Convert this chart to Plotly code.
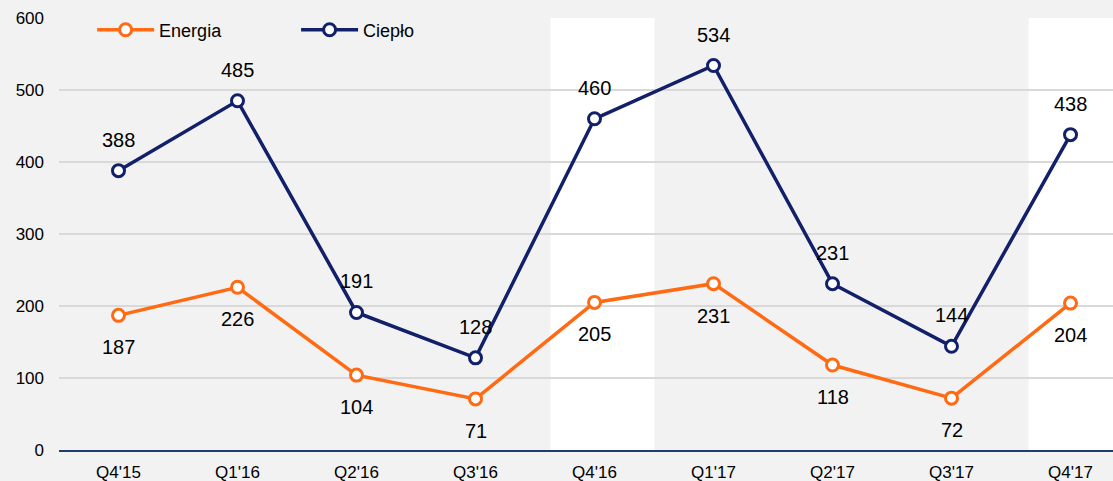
import plotly.graph_objects as go

categories = ["Q4'15", "Q1'16", "Q2'16", "Q3'16", "Q4'16", "Q1'17", "Q2'17", "Q3'17", "Q4'17"]
energia = [187, 226, 104, 71, 205, 231, 118, 72, 204]
cieplo = [388, 485, 191, 128, 460, 534, 231, 144, 438]
y_ticks = [0, 100, 200, 300, 400, 500, 600]

ORANGE = "#FF6A13"
NAVY = "#12206A"
BG = "#F2F2F2"
FONT = "Liberation Sans, Arial, sans-serif"

xs = list(range(len(categories)))
X_MAX = 8.357

fig = go.Figure()
fig.add_trace(go.Scatter(
    x=xs, y=energia, name="Energia", mode="lines+markers",
    line=dict(color=ORANGE, width=3.5),
    marker=dict(symbol="circle", size=12, color="white", line=dict(color=ORANGE, width=3)),
    cliponaxis=False,
))
fig.add_trace(go.Scatter(
    x=xs, y=cieplo, name="Ciepło", mode="lines+markers",
    line=dict(color=NAVY, width=3.5),
    marker=dict(symbol="circle", size=12, color="white", line=dict(color=NAVY, width=3)),
    cliponaxis=False,
))

annotations = []
for i, v in enumerate(energia):
    annotations.append(dict(x=i, y=v, xref="x", yref="y", text=str(v), showarrow=False,
                            yshift=-32, font=dict(family=FONT, size=20, color="#000000")))
for i, v in enumerate(cieplo):
    annotations.append(dict(x=i, y=v, xref="x", yref="y", text=str(v), showarrow=False,
                            yshift=31, font=dict(family=FONT, size=20, color="#000000")))

shapes = [
    dict(type="rect", xref="x", yref="y", x0=3.630, x1=4.504, y0=0, y1=600,
         fillcolor="white", line=dict(width=0), layer="below"),
    dict(type="rect", xref="x", yref="y", x0=7.647, x1=X_MAX, y0=0, y1=600,
         fillcolor="white", line=dict(width=0), layer="below"),
]

fig.update_layout(
    width=1113, height=481,
    margin=dict(l=59, r=0, t=18, b=31),
    paper_bgcolor=BG, plot_bgcolor=BG,
    font=dict(family=FONT, size=17, color="#000000"),
    showlegend=True,
    legend=dict(orientation="h", x=0.0314, xanchor="left", y=0.972, yanchor="middle",
                bgcolor="rgba(0,0,0,0)", itemwidth=57, entrywidth=132, entrywidthmode="pixels",
                font=dict(family=FONT, size=18, color="#000000")),
    annotations=annotations,
    shapes=shapes,
    xaxis=dict(
        tickmode="array", tickvals=xs, ticktext=categories, range=[-0.5, X_MAX],
        showgrid=False, zeroline=False, showline=True, linecolor="#1F3C6E", linewidth=2,
        ticks="", ticklabelstandoff=6, tickfont=dict(family=FONT, size=17, color="#000000"),
        fixedrange=True, automargin=False,
    ),
    yaxis=dict(
        range=[0, 600], tickmode="array", tickvals=y_ticks,
        showgrid=True, gridcolor="#D9D9D9", gridwidth=1.5, zeroline=False, showline=False,
        ticks="", ticklabelstandoff=14, tickfont=dict(family=FONT, size=17, color="#000000"),
        fixedrange=True, automargin=False,
    ),
)

fig.write_html(
    "out.html",
    config={"displayModeBar": False},
    post_script="document.body.style.margin='0';document.body.style.background='#F2F2F2';",
)
